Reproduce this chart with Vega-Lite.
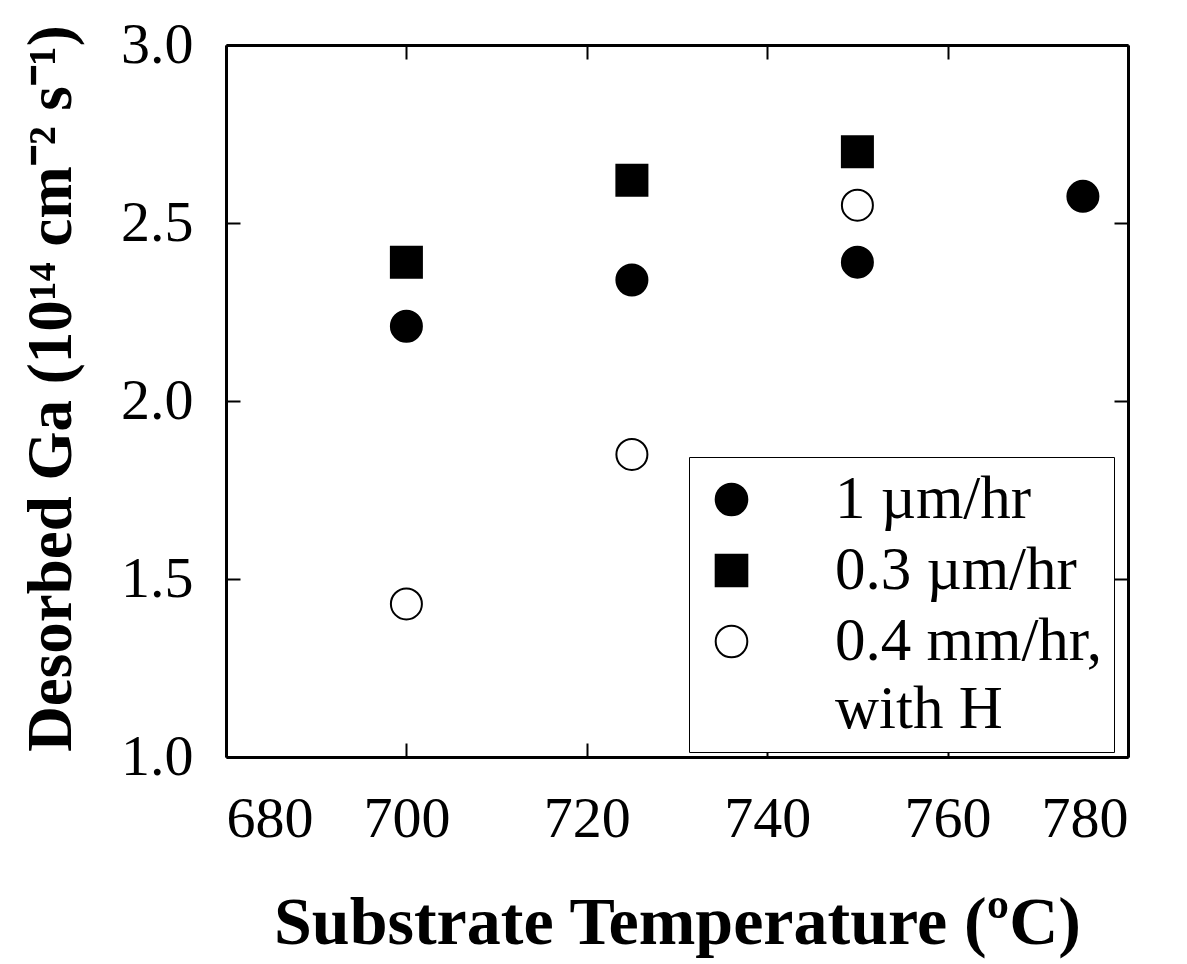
{
  "$schema": "https://vega.github.io/schema/vega-lite/v6.json",
  "width": 902,
  "height": 712,
  "autosize": "none",
  "padding": {"left": 226, "top": 45, "right": 59, "bottom": 207},
  "background": "white",
  "config": {
    "view": {"stroke": null},
    "style": {"guide-label": {"lineHeight": 68}},
    "axis": {
      "labelFont": "Liberation Serif",
      "labelFontSize": 58,
      "labelColor": "black",
      "titleFont": "Liberation Serif",
      "titleFontWeight": "bold",
      "titleColor": "black",
      "domainColor": "black",
      "domainWidth": 3,
      "tickColor": "black",
      "tickWidth": 2,
      "tickSize": -14,
      "grid": false,
      "labelPadding": 47
    }
  },
  "data": {
    "values": [
      {"T": 700, "G": 2.21, "series": "1 µm/hr"},
      {"T": 725, "G": 2.34, "series": "1 µm/hr"},
      {"T": 750, "G": 2.39, "series": "1 µm/hr"},
      {"T": 775, "G": 2.575, "series": "1 µm/hr"},
      {"T": 700, "G": 2.39, "series": "0.3 µm/hr"},
      {"T": 725, "G": 2.62, "series": "0.3 µm/hr"},
      {"T": 750, "G": 2.70, "series": "0.3 µm/hr"},
      {"T": 700, "G": 1.43, "series": "0.4 mm/hr, with H"},
      {"T": 725, "G": 1.85, "series": "0.4 mm/hr, with H"},
      {"T": 750, "G": 2.55, "series": "0.4 mm/hr, with H"}
    ]
  },
  "resolve": {"axis": {"x": "independent", "y": "independent"}},
  "layer": [
    {
      "mark": {"type": "point", "filled": false, "size": 962, "strokeWidth": 2, "opacity": 1},
      "encoding": {
        "x": {
          "field": "T", "type": "quantitative",
          "scale": {"domain": [680, 780], "nice": false, "zero": false},
          "axis": {"orient": "bottom", "values": [680, 700, 720, 740, 760, 780], "title": "Substrate Temperature (ºC)", "titleFontSize": 68, "titlePadding": 41}
        },
        "y": {
          "field": "G", "type": "quantitative",
          "scale": {"domain": [1.0, 3.0], "nice": false, "zero": false},
          "axis": {"orient": "left", "values": [1.0, 1.5, 2.0, 2.5, 3.0], "format": ".1f", "title": "Desorbed Ga (10¹⁴ cm⁻² s⁻¹)", "titleFontSize": 63, "titlePadding": 37, "titleY": 343}
        },
        "shape": {
          "field": "series", "type": "nominal",
          "scale": {"domain": ["1 µm/hr", "0.3 µm/hr", "0.4 mm/hr, with H"], "range": ["circle", "square", "circle"]},
          "legend": {
            "orient": "none", "legendX": 463, "legendY": 412,
            "title": null,
            "fillColor": "white", "strokeColor": "black",
            "padding": 12,
            "labelFont": "Liberation Serif", "labelFontSize": 61, "labelColor": "black",
            "labelLimit": 500,
            "labelOffset": 73, "rowPadding": 9, "symbolSize": 1000,
            "symbolStrokeWidth": 2,
            "labelExpr": "datum.label == '0.4 mm/hr, with H' ? ['0.4 mm/hr,', 'with H'] : datum.label"
          }
        },
        "fill": {
          "field": "series", "type": "nominal",
          "scale": {"domain": ["1 µm/hr", "0.3 µm/hr", "0.4 mm/hr, with H"], "range": ["black", "black", "white"]},
          "legend": null
        },
        "stroke": {
          "field": "series", "type": "nominal",
          "scale": {"domain": ["1 µm/hr", "0.3 µm/hr", "0.4 mm/hr, with H"], "range": ["black", "black", "black"]},
          "legend": null
        }
      }
    },
    {
      "mark": {"type": "point", "opacity": 0},
      "encoding": {
        "x": {
          "field": "T", "type": "quantitative",
          "scale": {"domain": [680, 780], "nice": false, "zero": false},
          "axis": {"orient": "top", "values": [680, 700, 720, 740, 760, 780], "labels": false, "title": null}
        },
        "y": {
          "field": "G", "type": "quantitative",
          "scale": {"domain": [1.0, 3.0], "nice": false, "zero": false},
          "axis": {"orient": "right", "values": [1.0, 1.5, 2.0, 2.5, 3.0], "labels": false, "title": null}
        }
      }
    }
  ]
}
